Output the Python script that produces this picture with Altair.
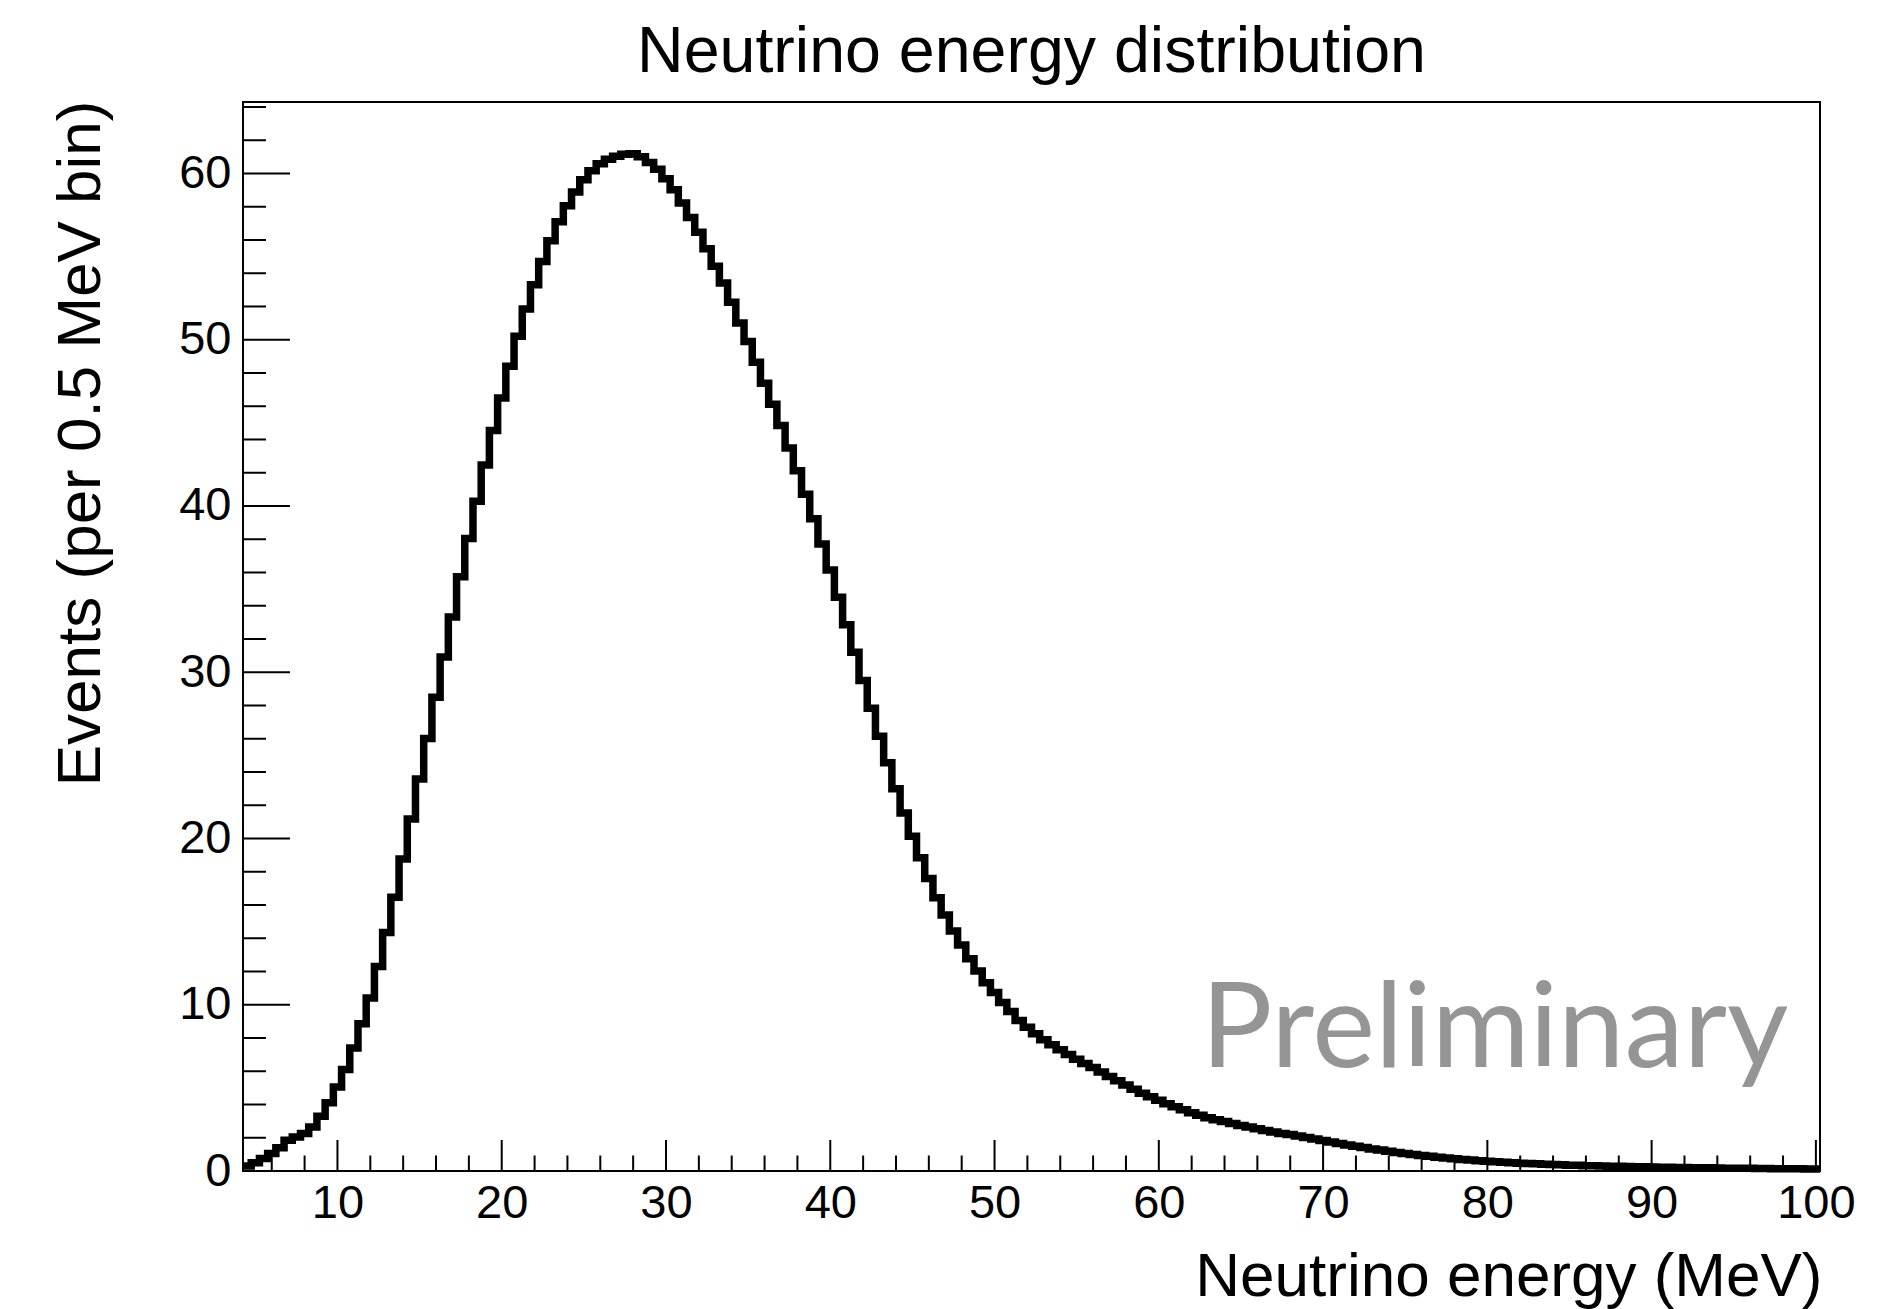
import altair as alt
import pandas as pd

# ---- data ----
BIN_START = 4.25
BIN_WIDTH = 0.5
X_MAX = 100.25
Y_MAX = 64.3

counts = [
    0.30, 0.50, 0.75, 1.05, 1.40, 1.85, 2.05, 2.25, 2.65, 3.30,
    4.10, 5.05, 6.10, 7.40, 8.85, 10.40, 12.30, 14.35, 16.47, 18.77,
    21.17, 23.58, 26.02, 28.49, 30.91, 33.33, 35.74, 38.04, 40.28, 42.46,
    44.54, 46.50, 48.41, 50.21, 51.85, 53.31, 54.71, 55.96, 57.10, 58.06,
    58.88, 59.63, 60.17, 60.59, 60.85, 61.03, 61.15, 61.19, 61.00, 60.66,
    60.26, 59.68, 59.02, 58.22, 57.36, 56.46, 55.48, 54.42, 53.41, 52.25,
    51.01, 49.89, 48.65, 47.39, 46.12, 44.84, 43.49, 42.12, 40.70, 39.23,
    37.71, 36.15, 34.51, 32.86, 31.20, 29.50, 27.83, 26.15, 24.55, 22.99,
    21.54, 20.14, 18.84, 17.60, 16.44, 15.40, 14.43, 13.59, 12.77, 12.03,
    11.33, 10.73, 10.13, 9.59, 9.06, 8.64, 8.25, 7.90, 7.60, 7.30,
    7.00, 6.72, 6.47, 6.22, 5.95, 5.68, 5.43, 5.17, 4.92, 4.68,
    4.46, 4.25, 4.05, 3.86, 3.68, 3.50, 3.35, 3.20, 3.08, 2.97,
    2.85, 2.74, 2.64, 2.54, 2.44, 2.34, 2.26, 2.19, 2.10, 2.01,
    1.92, 1.83, 1.74, 1.66, 1.57, 1.49, 1.41, 1.33, 1.26, 1.19,
    1.12, 1.05, 0.99, 0.93, 0.88, 0.83, 0.78, 0.73, 0.69, 0.66,
    0.62, 0.59, 0.56, 0.53, 0.50, 0.47, 0.45, 0.43, 0.41, 0.39,
    0.37, 0.35, 0.34, 0.32, 0.31, 0.30, 0.29, 0.28, 0.27, 0.26,
    0.25, 0.24, 0.23, 0.22, 0.21, 0.21, 0.20, 0.19, 0.19, 0.18,
    0.17, 0.17, 0.16, 0.16, 0.15, 0.15, 0.14, 0.14, 0.13, 0.13,
    0.12, 0.12,
]

x_major = [10, 20, 30, 40, 50, 60, 70, 80, 90, 100]
x_minor = [v for v in range(6, 100, 2) if v % 10 != 0]
y_major = [0, 10, 20, 30, 40, 50, 60]
y_minor = [v for v in range(2, 65, 2) if v % 10 != 0]

TITLE = "Neutrino energy distribution"
X_TITLE = "Neutrino energy (MeV)"
Y_TITLE = "Events (per 0.5 MeV bin)"
WATERMARK = "Preliminary"

# ---- layout ----
W, H = 1577, 1069
FONT = "Liberation Sans"

edges = [BIN_START + BIN_WIDTH * i for i in range(len(counts))]
hist = pd.DataFrame({"x": edges + [X_MAX], "y": counts + [counts[-1]]})

xs = alt.Scale(domain=[BIN_START, X_MAX], nice=False, zero=False)
ys = alt.Scale(domain=[0, Y_MAX], nice=False)

x_axis = alt.Axis(
    values=x_major, format="d", ticks=False, tickSize=0, domain=False, grid=False,
    labelFont=FONT, labelFontSize=47, labelColor="black", labelPadding=9,
    title=X_TITLE, titleFont=FONT, titleFontSize=62, titleFontWeight="normal",
    titleColor="black", titleAlign="right", titleBaseline="alphabetic",
    titleAnchor="end", titleX=W + 2, titleY=124,
)
y_axis = alt.Axis(
    values=y_major, format="d", ticks=False, tickSize=0, domain=False, grid=False,
    labelFont=FONT, labelFontSize=47, labelColor="black", labelPadding=12,
    title=Y_TITLE, titleFont=FONT, titleFontSize=62, titleFontWeight="normal",
    titleColor="black", titleAngle=270, titleAlign="right",
    titleBaseline="alphabetic", titleX=-144, titleY=-2,
)

line = alt.Chart(hist).mark_line(
    interpolate="step-after", color="black", strokeWidth=7.5,
    strokeJoin="miter", strokeCap="butt"
).encode(
    x=alt.X("x:Q", scale=xs, axis=x_axis),
    y=alt.Y("y:Q", scale=ys, axis=y_axis),
)

def xticks(vals, length):
    df = pd.DataFrame({"v": vals})
    return alt.Chart(df).mark_rule(color="black", strokeWidth=2).encode(
        x=alt.X("v:Q", scale=xs, axis=x_axis),
        y=alt.value(H), y2=alt.value(H - length),
    )

def yticks(vals, length):
    df = pd.DataFrame({"v": vals})
    return alt.Chart(df).mark_rule(color="black", strokeWidth=2).encode(
        y=alt.Y("v:Q", scale=ys, axis=y_axis),
        x=alt.value(0), x2=alt.value(length),
    )

title = alt.Chart(pd.DataFrame({"t": [TITLE]})).mark_text(
    font=FONT, fontSize=64.5, color="black", align="center", baseline="alphabetic"
).encode(text="t:N", x=alt.value(W / 2), y=alt.value(-30))

mark = alt.Chart(pd.DataFrame({"t": [WATERMARK]})).mark_text(
    font="Lato", fontSize=119, color="#959595", align="left", baseline="alphabetic"
).encode(text="t:N", x=alt.value(958), y=alt.value(965))

chart = alt.layer(
    line,
    xticks(x_major, 31), xticks(x_minor, 15.5),
    yticks(y_major, 47), yticks(y_minor, 23),
    title, mark,
).properties(
    width=W, height=H,
    autosize=alt.AutoSizeParams(type="none"),
    padding={"left": 243, "top": 102, "right": 60, "bottom": 138},
    background="white",
).configure_view(stroke="black", strokeWidth=2)

chart.save("out.html", embed_options={"renderer": "svg", "actions": False})
